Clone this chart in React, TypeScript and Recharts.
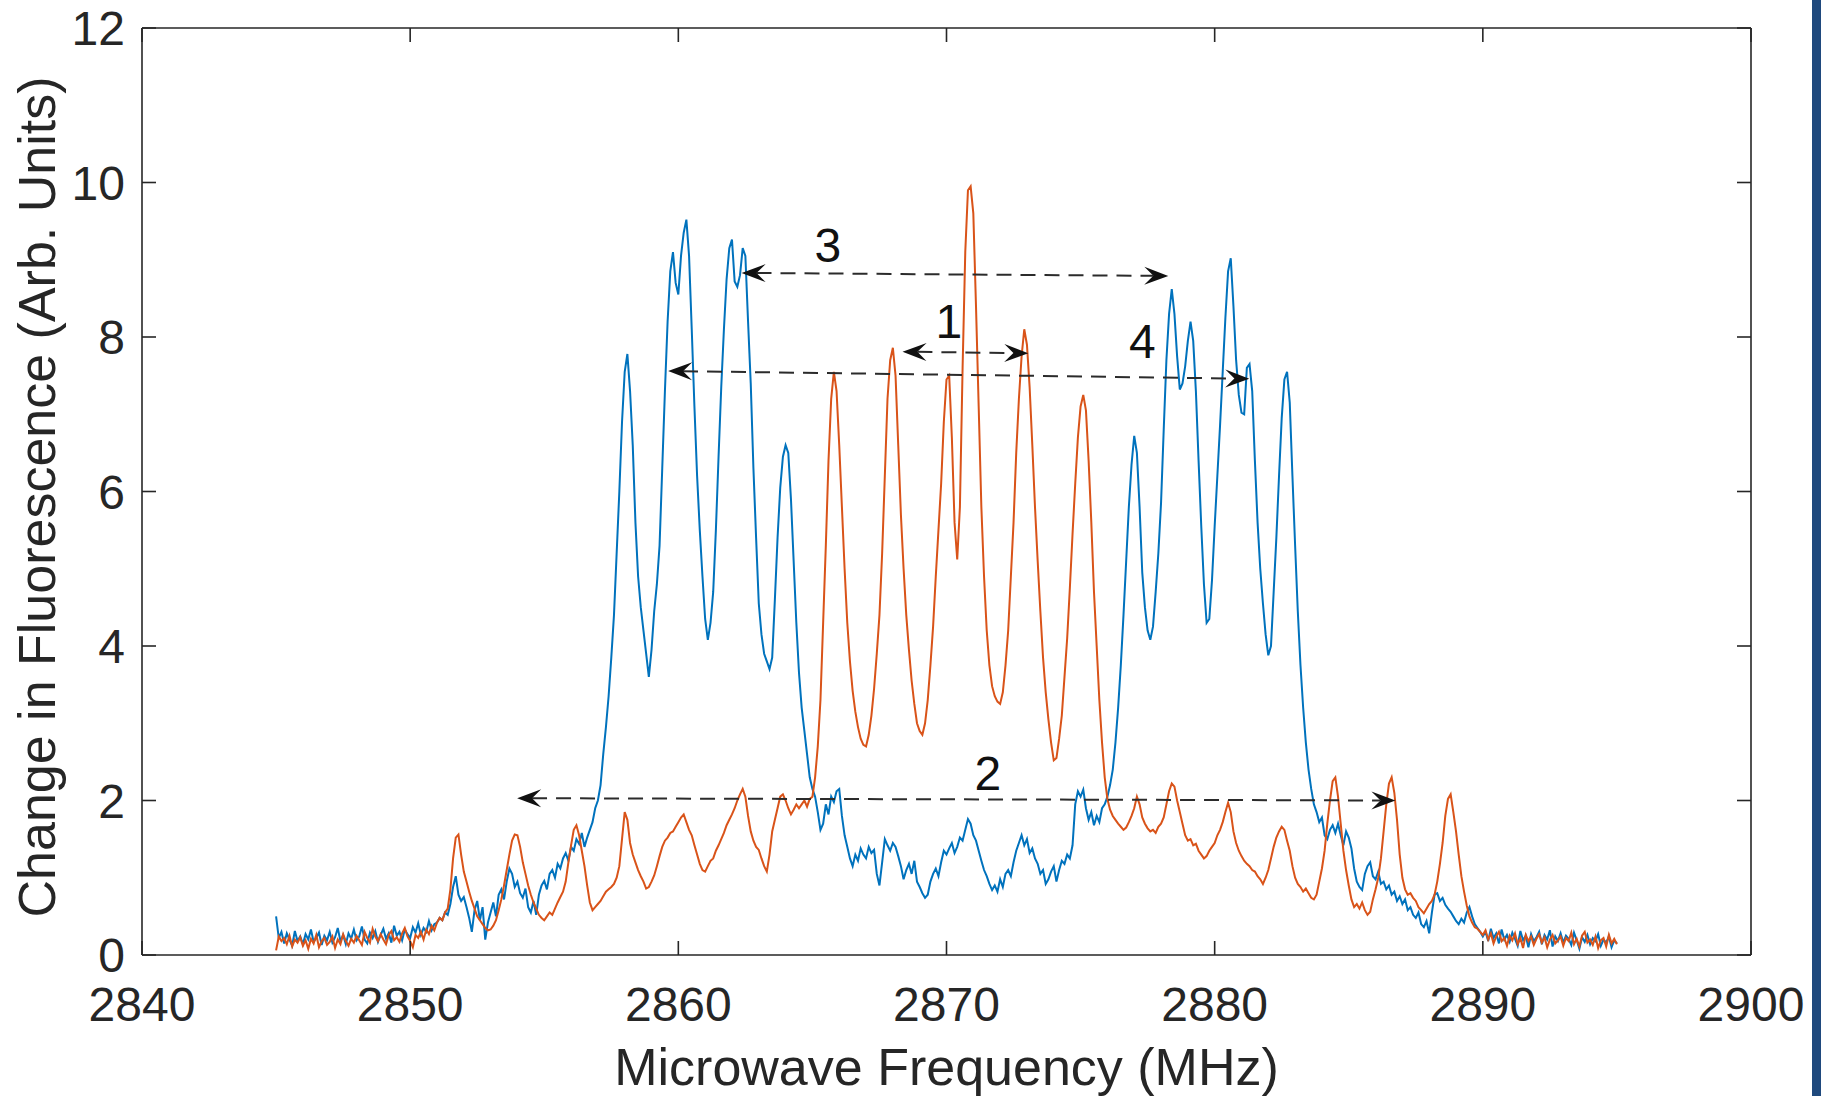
import React from 'react';
import { LineChart, Line, XAxis, YAxis, ReferenceLine, ReferenceDot, Label } from 'recharts';

// Sweep grid of the microwave source (MHz)
const FREQ_START = 2845;
const FREQ_STEP = 0.1;

// Fluorescence change, first measurement (one row per MHz, 0.1 MHz steps)
const blueSignal = [
  0.50, 0.22, 0.30, 0.15, 0.28, 0.20, 0.12, 0.31, 0.18, 0.24,
  0.14, 0.27, 0.20, 0.33, 0.17, 0.22, 0.29, 0.13, 0.25, 0.19,
  0.30, 0.16, 0.23, 0.35, 0.18, 0.26, 0.14, 0.28, 0.21, 0.33,
  0.19, 0.24, 0.37, 0.20, 0.15, 0.29, 0.22, 0.31, 0.17, 0.26,
  0.34, 0.21, 0.28, 0.16, 0.38, 0.25, 0.30, 0.19, 0.33, 0.27,
  0.22, 0.36, 0.29, 0.41, 0.26, 0.35, 0.30, 0.44, 0.32, 0.40,
  0.42, 0.48, 0.45, 0.55, 0.52, 0.66, 0.88, 1.02, 0.78, 0.70,
  0.75, 0.62, 0.48, 0.30, 0.58, 0.70, 0.45, 0.62, 0.20, 0.42,
  0.55, 0.68, 0.50, 0.78, 0.85, 0.72, 0.95, 1.12, 1.05, 0.88,
  0.95, 0.80, 0.74, 0.86, 0.62, 0.55, 0.70, 0.52, 0.78, 0.90,
  0.96, 0.85, 1.05, 1.10, 1.00, 1.18, 1.12, 1.25, 1.32, 1.22,
  1.40, 1.35, 1.50, 1.44, 1.58, 1.40, 1.52, 1.62, 1.72, 1.90,
  2.00, 2.20, 2.60, 2.95, 3.35, 3.85, 4.40, 5.20, 6.00, 6.90,
  7.55, 7.78, 7.30, 6.60, 5.60, 4.90, 4.50, 4.20, 3.90, 3.60,
  3.95, 4.45, 4.80, 5.30, 6.30, 7.30, 8.20, 8.85, 9.10, 8.70,
  8.55, 9.05, 9.35, 9.52, 9.05, 8.10, 7.10, 6.20, 5.50, 4.90,
  4.35, 4.08, 4.30, 4.70, 5.50, 6.45, 7.35, 8.10, 8.75, 9.15,
  9.26, 8.72, 8.65, 8.80, 9.15, 9.05, 8.20, 7.40, 6.30, 5.40,
  4.55, 4.15, 3.90, 3.80, 3.70, 3.85, 4.60, 5.40, 6.05, 6.45,
  6.60, 6.50, 5.90, 5.10, 4.30, 3.65, 3.20, 2.90, 2.60, 2.30,
  2.15, 2.05, 1.85, 1.62, 1.70, 1.95, 1.82, 2.05, 1.98, 2.12,
  2.15, 1.80, 1.55, 1.40, 1.25, 1.15, 1.30, 1.22, 1.38, 1.30,
  1.25, 1.40, 1.32, 1.36, 1.05, 0.90, 1.20, 1.50, 1.42, 1.35,
  1.45, 1.40, 1.28, 1.15, 0.98, 1.10, 1.18, 1.05, 1.22, 0.95,
  0.88, 0.80, 0.74, 0.78, 0.95, 1.05, 1.12, 1.02, 1.20, 1.35,
  1.30, 1.38, 1.45, 1.32, 1.40, 1.52, 1.48, 1.62, 1.76, 1.70,
  1.55, 1.48, 1.35, 1.22, 1.10, 1.02, 0.92, 0.84, 0.90, 0.82,
  0.98, 0.88, 1.05, 1.10, 1.02, 1.20, 1.35, 1.45, 1.55, 1.42,
  1.50, 1.32, 1.38, 1.25, 1.18, 1.05, 1.10, 0.92, 0.98, 1.08,
  1.15, 0.95, 1.10, 1.22, 1.18, 1.30, 1.25, 1.42, 1.95, 2.12,
  2.05, 2.14, 1.90, 1.75, 1.85, 1.68, 1.80, 1.72, 1.90, 1.95,
  2.05, 2.20, 2.40, 2.75, 3.20, 3.75, 4.40, 5.10, 5.80, 6.35,
  6.72, 6.50, 5.80, 4.95, 4.50, 4.20, 4.08, 4.25, 4.70, 5.20,
  5.85, 6.80, 7.70, 8.30, 8.62, 8.30, 7.75, 7.32, 7.40, 7.62,
  7.95, 8.20, 7.95, 7.30, 6.40, 5.55, 4.80, 4.30, 4.35, 4.85,
  5.55, 6.20, 6.85, 7.55, 8.25, 8.85, 9.02, 8.40, 7.70, 7.25,
  7.02, 7.00, 7.60, 7.65, 7.30, 6.40, 5.60, 5.00, 4.55, 4.15,
  3.88, 4.00, 4.70, 5.40, 6.20, 6.95, 7.45, 7.55, 7.15, 6.20,
  5.30, 4.45, 3.75, 3.20, 2.75, 2.40, 2.15, 1.95, 1.85, 1.72,
  1.78, 1.55, 1.50, 1.62, 1.68, 1.58, 1.70, 1.55, 1.42, 1.60,
  1.52, 1.38, 1.12, 0.95, 0.88, 0.84, 1.05, 1.15, 1.20, 1.02,
  0.98, 1.08, 0.92, 0.95, 0.85, 0.90, 0.78, 0.82, 0.70, 0.76,
  0.66, 0.72, 0.58, 0.62, 0.52, 0.48, 0.55, 0.40, 0.36, 0.44,
  0.28, 0.55, 0.78, 0.80, 0.70, 0.74, 0.65, 0.60, 0.56, 0.50,
  0.44, 0.40, 0.47, 0.42, 0.55, 0.62, 0.50, 0.40, 0.35, 0.30,
  0.24, 0.30, 0.18, 0.34, 0.22, 0.28, 0.15, 0.33, 0.20, 0.26,
  0.17, 0.29, 0.21, 0.12, 0.31, 0.19, 0.25, 0.10, 0.27, 0.18,
  0.23, 0.30, 0.14, 0.26, 0.20, 0.32, 0.11, 0.24, 0.18, 0.28,
  0.16, 0.25, 0.21, 0.13, 0.29, 0.19, 0.08, 0.23, 0.17, 0.26,
  0.14, 0.22, 0.18, 0.27, 0.12, 0.20, 0.16, 0.24, 0.10, 0.19,
  0.15,
];

// Fluorescence change, second measurement (same sweep grid)
const orangeSignal = [
  0.06, 0.24, 0.18, 0.22, 0.14, 0.25, 0.11, 0.20, 0.16, 0.23,
  0.12, 0.19, 0.08, 0.21, 0.15, 0.26, 0.10, 0.18, 0.22, 0.13,
  0.17, 0.24, 0.09, 0.20, 0.14, 0.27, 0.18, 0.12, 0.21, 0.16,
  0.25, 0.19, 0.13, 0.30, 0.22, 0.16, 0.34, 0.24, 0.18, 0.27,
  0.20, 0.14, 0.26, 0.31, 0.19, 0.23, 0.17, 0.28, 0.35, 0.24,
  0.18, 0.10, 0.26, 0.22, 0.30, 0.20, 0.33, 0.27, 0.38, 0.32,
  0.42, 0.48, 0.45, 0.55, 0.60, 0.85, 1.25, 1.52, 1.56, 1.30,
  1.08, 0.95, 0.82, 0.70, 0.60, 0.50, 0.45, 0.40, 0.35, 0.32,
  0.33, 0.38, 0.45, 0.58, 0.72, 0.90, 1.10, 1.30, 1.48, 1.56,
  1.55, 1.40, 1.20, 1.05, 0.90, 0.78, 0.68, 0.60, 0.52, 0.48,
  0.45, 0.50, 0.55, 0.52, 0.60, 0.68, 0.75, 0.82, 0.95, 1.20,
  1.42, 1.62, 1.68, 1.55, 1.35, 1.15, 0.90, 0.68, 0.58, 0.62,
  0.66, 0.70, 0.76, 0.82, 0.85, 0.88, 0.92, 1.00, 1.15, 1.50,
  1.85, 1.75, 1.45, 1.30, 1.20, 1.10, 1.02, 0.95, 0.86, 0.88,
  0.95, 1.03, 1.15, 1.28, 1.40, 1.48, 1.52, 1.58, 1.60, 1.66,
  1.72, 1.78, 1.82, 1.72, 1.62, 1.55, 1.42, 1.30, 1.18, 1.10,
  1.08, 1.15, 1.22, 1.25, 1.35, 1.42, 1.50, 1.58, 1.68, 1.75,
  1.82, 1.90, 2.00, 2.08, 2.15, 2.05, 1.80, 1.60, 1.48, 1.40,
  1.36, 1.25, 1.15, 1.08, 1.30, 1.60, 1.75, 1.90, 2.05, 2.08,
  2.00, 1.90, 1.82, 1.88, 1.95, 1.90, 1.95, 2.00, 1.92, 2.02,
  2.05, 2.30, 2.70, 3.30, 4.30, 5.30, 6.40, 7.20, 7.55, 7.30,
  6.60, 5.80, 5.00, 4.30, 3.80, 3.42, 3.15, 2.95, 2.80, 2.72,
  2.70, 2.85, 3.10, 3.45, 3.90, 4.40, 5.20, 6.20, 7.20, 7.70,
  7.86, 7.50, 6.60, 5.70, 5.00, 4.40, 3.95, 3.55, 3.25, 3.00,
  2.90, 2.85, 3.00, 3.30, 3.75, 4.25, 4.90, 5.50, 6.10, 6.90,
  7.45, 7.50, 6.70, 5.60, 5.12, 5.80, 7.60, 9.10, 9.90, 9.95,
  9.60, 8.40, 7.10, 5.80, 4.90, 4.20, 3.75, 3.48, 3.35, 3.28,
  3.25, 3.40, 3.75, 4.20, 4.90, 5.60, 6.50, 7.20, 7.75, 8.10,
  7.90, 7.35, 6.60, 5.80, 5.10, 4.45, 3.85, 3.40, 3.05, 2.75,
  2.52, 2.55, 2.80, 3.10, 3.60, 4.10, 4.75, 5.45, 6.10, 6.70,
  7.10, 7.25, 7.05, 6.40, 5.60, 4.70, 4.00, 3.30, 2.75, 2.30,
  2.02, 1.88, 1.80, 1.75, 1.70, 1.66, 1.62, 1.65, 1.72, 1.80,
  1.90, 2.05, 1.95, 1.78, 1.70, 1.64, 1.60, 1.62, 1.58, 1.66,
  1.70, 1.78, 1.95, 2.12, 2.22, 2.18, 2.00, 1.85, 1.70, 1.55,
  1.48, 1.50, 1.42, 1.44, 1.35, 1.30, 1.25, 1.28, 1.35, 1.40,
  1.45, 1.55, 1.62, 1.72, 1.85, 1.97, 1.85, 1.60, 1.45, 1.35,
  1.28, 1.22, 1.18, 1.15, 1.10, 1.08, 1.02, 0.98, 0.92, 1.00,
  1.10, 1.25, 1.40, 1.52, 1.60, 1.66, 1.62, 1.48, 1.35, 1.15,
  1.00, 0.92, 0.88, 0.82, 0.86, 0.80, 0.74, 0.72, 0.78, 0.95,
  1.12, 1.35, 1.70, 2.00, 2.25, 2.30, 2.05, 1.70, 1.35, 1.10,
  0.90, 0.72, 0.62, 0.66, 0.60, 0.68, 0.58, 0.52, 0.56, 0.72,
  0.85, 1.00, 1.25, 1.60, 1.95, 2.22, 2.30, 2.10, 1.75, 1.30,
  1.00, 0.85, 0.78, 0.80, 0.74, 0.70, 0.62, 0.58, 0.54, 0.60,
  0.66, 0.70, 0.78, 0.95, 1.18, 1.45, 1.80, 2.02, 2.08, 1.85,
  1.60, 1.30, 1.02, 0.82, 0.64, 0.50, 0.42, 0.36, 0.34, 0.30,
  0.26, 0.32, 0.20, 0.28, 0.15, 0.24, 0.30, 0.18, 0.22, 0.12,
  0.25, 0.19, 0.28, 0.14, 0.22, 0.09, 0.26, 0.18, 0.24, 0.13,
  0.21, 0.27, 0.16, 0.23, 0.10, 0.20, 0.26, 0.15, 0.19, 0.24,
  0.12, 0.22, 0.18, 0.29, 0.14, 0.21, 0.11, 0.25, 0.30, 0.16,
  0.20, 0.13, 0.24, 0.09, 0.19, 0.22, 0.11, 0.26, 0.15, 0.21,
  0.14,
];

const xTicks = [2840, 2850, 2860, 2870, 2880, 2890, 2900];
const yTicks = [0, 2, 4, 6, 8, 10, 12];

// Splitting annotations: label, arrow ends [MHz, value] and label centre
const splitLabels = ['3', '1', '4', '2'];
const splitFrom = [[2862.36, 8.83], [2868.36, 7.81], [2859.62, 7.56], [2853.99, 2.03]];
const splitTo = [[2878.27, 8.79], [2873.05, 7.79], [2881.29, 7.46], [2886.74, 2.0]];
const splitLabelAt = [[2865.58, 9.19], [2870.09, 8.21], [2877.3, 7.95], [2871.54, 2.36]];

const data = blueSignal.map((b, i) => ({
  freq: Math.round((FREQ_START + i * FREQ_STEP) * 10) / 10,
  blue: b,
  orange: orangeSignal[i],
}));

const FONT = '"Liberation Sans", Arial, Helvetica, sans-serif';
const AXIS = '#262626';
const TICK_LEN = 14;

const BottomTick = (props: any) => {
  const { x, y, payload } = props;
  return (
    <g>
      <line x1={x} y1={y} x2={x} y2={y - TICK_LEN} stroke={AXIS} strokeWidth={1.6} />
      <text x={x} y={y + 66} textAnchor="middle" fontFamily={FONT} fontSize={48} fill={AXIS}>
        {payload.value}
      </text>
    </g>
  );
};

const TopTick = (props: any) => {
  const { x, y } = props;
  return <line x1={x} y1={y} x2={x} y2={y + TICK_LEN} stroke={AXIS} strokeWidth={1.6} />;
};

const LeftTick = (props: any) => {
  const { x, y, payload } = props;
  return (
    <g>
      <line x1={x} y1={y} x2={x + TICK_LEN} y2={y} stroke={AXIS} strokeWidth={1.6} />
      <text x={x - 17} y={y + 17} textAnchor="end" fontFamily={FONT} fontSize={48} fill={AXIS}>
        {payload.value}
      </text>
    </g>
  );
};

const RightTick = (props: any) => {
  const { x, y } = props;
  return <line x1={x} y1={y} x2={x - TICK_LEN} y2={y} stroke={AXIS} strokeWidth={1.6} />;
};

// Dashed double-headed arrow with swept-back heads
const head = (tx: number, ty: number, ux: number, uy: number) => {
  const L = 24;
  const W = 9;
  const N = 0.62 * L;
  const px = -uy;
  const py = ux;
  const pts = [
    [tx, ty],
    [tx - ux * L + px * W, ty - uy * L + py * W],
    [tx - ux * N, ty - uy * N],
    [tx - ux * L - px * W, ty - uy * L - py * W],
  ];
  return pts.map((p) => `${p[0]},${p[1]}`).join(' ');
};

const SplitArrow = (props: any) => {
  const { x1, y1, x2, y2 } = props;
  const dx = x2 - x1;
  const dy = y2 - y1;
  const len = Math.sqrt(dx * dx + dy * dy) || 1;
  const ux = dx / len;
  const uy = dy / len;
  const back = 0.62 * 24;
  return (
    <g>
      <line
        x1={x1 + ux * back}
        y1={y1 + uy * back}
        x2={x2 - ux * back}
        y2={y2 - uy * back}
        stroke="#2b2b2b"
        strokeWidth={2}
        strokeDasharray="15 9"
      />
      <polygon points={head(x2, y2, ux, uy)} fill="#111" />
      <polygon points={head(x1, y1, -ux, -uy)} fill="#111" />
    </g>
  );
};

const makeLabelShape = (text: string) => (props: any) => (
  <text
    x={props.cx}
    y={props.cy + 17}
    textAnchor="middle"
    fontFamily={FONT}
    fontSize={48}
    fill="#111"
  >
    {text}
  </text>
);

const XTitle = (props: any) => {
  const vb = props.viewBox || { x: 142, y: 955, width: 1609 };
  return (
    <text x={vb.x + vb.width / 2} y={vb.y + 130} textAnchor="middle" fontFamily={FONT} fontSize={52} fill={AXIS}>
      Microwave Frequency (MHz)
    </text>
  );
};

const YTitle = (props: any) => {
  const vb = props.viewBox || { x: 42, y: 28, width: 100, height: 927 };
  const cx = 55;
  const cy = vb.y + vb.height / 2 + 5.5;
  return (
    <text
      x={cx}
      y={cy}
      transform={`rotate(-90, ${cx}, ${cy})`}
      textAnchor="middle"
      fontFamily={FONT}
      fontSize={52}
      fill={AXIS}
    >
      Change in Fluorescence (Arb. Units)
    </text>
  );
};

export default function App() {
  return (
    <div style={{ position: 'fixed', left: 0, top: 0, width: 1821, height: 1096, background: '#ffffff', overflow: 'hidden' }}>
      <LineChart
        width={1821}
        height={1096}
        data={data}
        margin={{ top: 20, right: 62, bottom: 81, left: 42 }}
      >
        <XAxis
          dataKey="freq"
          type="number"
          domain={[2840, 2900]}
          ticks={xTicks}
          interval={0}
          height={60}
          tickSize={0}
          tickMargin={0}
          tickLine={false}
          axisLine={{ stroke: AXIS, strokeWidth: 1.6 }}
          tick={<BottomTick />}
          allowDataOverflow
        >
          <Label content={<XTitle />} />
        </XAxis>
        <XAxis
          xAxisId="top"
          orientation="top"
          dataKey="freq"
          type="number"
          domain={[2840, 2900]}
          ticks={xTicks}
          interval={0}
          height={8}
          tickSize={0}
          tickMargin={0}
          tickLine={false}
          axisLine={{ stroke: AXIS, strokeWidth: 1.6 }}
          tick={<TopTick />}
          allowDataOverflow
        />
        <YAxis
          type="number"
          domain={[0, 12]}
          ticks={yTicks}
          interval={0}
          width={100}
          tickSize={0}
          tickMargin={0}
          tickLine={false}
          axisLine={{ stroke: AXIS, strokeWidth: 1.6 }}
          tick={<LeftTick />}
          allowDataOverflow
        >
          <Label content={<YTitle />} />
        </YAxis>
        <YAxis
          yAxisId="right"
          orientation="right"
          type="number"
          domain={[0, 12]}
          ticks={yTicks}
          interval={0}
          width={8}
          tickSize={0}
          tickMargin={0}
          tickLine={false}
          axisLine={{ stroke: AXIS, strokeWidth: 1.6 }}
          tick={<RightTick />}
          allowDataOverflow
        />
        <Line
          type="linear"
          dataKey="blue"
          stroke="#0072BD"
          strokeWidth={2}
          dot={false}
          activeDot={false}
          isAnimationActive={false}
        />
        <Line
          type="linear"
          dataKey="orange"
          stroke="#D95319"
          strokeWidth={2}
          dot={false}
          activeDot={false}
          isAnimationActive={false}
        />
        {splitLabels.map((lab, i) => (
          <ReferenceLine
            key={`arrow-${lab}`}
            segment={[
              { x: splitFrom[i][0], y: splitFrom[i][1] },
              { x: splitTo[i][0], y: splitTo[i][1] },
            ]}
            ifOverflow="visible"
            shape={SplitArrow}
          />
        ))}
        {splitLabels.map((lab, i) => (
          <ReferenceDot
            key={`label-${lab}`}
            x={splitLabelAt[i][0]}
            y={splitLabelAt[i][1]}
            r={1}
            ifOverflow="visible"
            shape={makeLabelShape(lab)}
          />
        ))}
      </LineChart>
      <div style={{ position: 'absolute', left: 1812, top: 0, width: 9, height: 1096, background: '#1F497D' }} />
    </div>
  );
}
